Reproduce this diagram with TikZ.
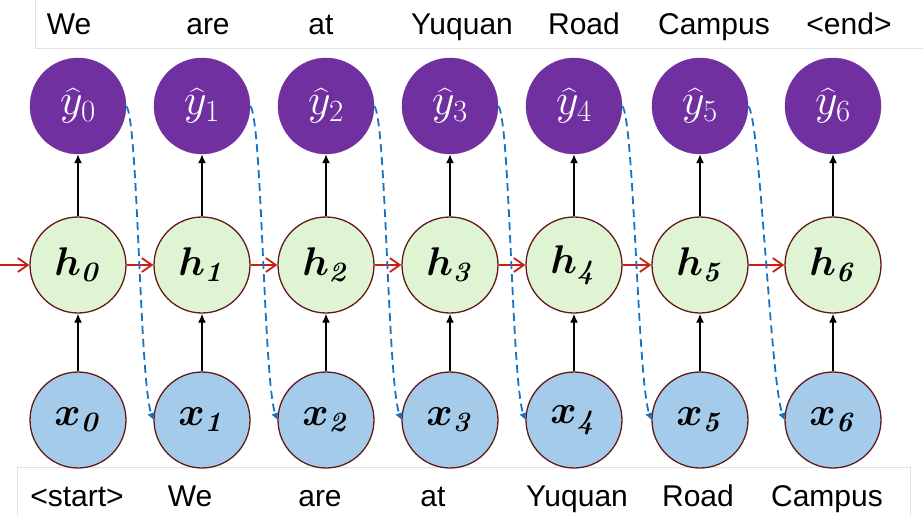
\RequirePackage{fix-cm}
\documentclass[tikz,border=0pt]{standalone}
\usepackage{amsmath}
\usepackage{bm}
\usepackage[no-math]{fontspec}
\setmainfont{Liberation Sans}
\usetikzlibrary{arrows.meta,calc}

\definecolor{ypurple}{RGB}{112,48,160}
\definecolor{hgreen}{RGB}{222,244,210}
\definecolor{xblue}{RGB}{164,203,234}
\definecolor{rimbrown}{RGB}{100,25,25}
\definecolor{recred}{RGB}{200,30,20}
\definecolor{feedblue}{RGB}{20,115,195}
\definecolor{boxgray}{RGB}{225,225,225}

\tikzset{
  outnode/.style={circle, minimum size=96pt, inner sep=0pt, fill=ypurple, draw=ypurple,
    text=white, font=\fontsize{44}{44}\selectfont},
  hidnode/.style={circle, minimum size=96pt, inner sep=0pt, fill=hgreen, draw=rimbrown,
    line width=1.3pt, font=\fontsize{40}{40}\selectfont},
  innode/.style={circle, minimum size=96pt, inner sep=0pt, fill=xblue, draw=rimbrown,
    line width=1.3pt, font=\fontsize{40}{40}\selectfont},
  word/.style={font=\fontsize{30}{30}\selectfont, anchor=base, inner sep=0pt},
  upflow/.style={line width=1.6pt, -{Latex[length=9pt,width=8pt]}},
  recur/.style={line width=1.8pt, draw=recred, -{Straight Barb[length=10pt,width=14pt,line width=1.8pt]}},
  feedback/.style={line width=1.8pt, draw=feedblue, dash pattern=on 8pt off 5pt,
    -{Latex[length=7pt,width=8pt]}},
  wordbox/.style={draw=boxgray, line width=0.8pt}
}

\newcommand{\hlab}[1]{$\bm{h}_{\bm{\mathit{#1}}}$}
\newcommand{\xlab}[1]{$\bm{x}_{\bm{\mathit{#1}}}$}

\begin{document}
\begin{tikzpicture}[x=1pt,y=-1pt]
  \useasboundingbox (0,0) rectangle (923,516);

  % word strips above and below
  \draw[wordbox] (35,-2) -- (35,48) -- (925,48);
  \draw[wordbox] (17,518) -- (17,467) -- (910,467) -- (910,518);

  % column positions
  \foreach \i/\cx in {0/78,1/202,2/326,3/450,4/574,5/700,6/833} {
    \node[outnode] (y\i) at (\cx,106) {$\widehat{y}_{\i}$};
    \node[hidnode] (h\i) at (\cx,265) {\hlab{\i}};
    \node[innode]  (x\i) at (\cx,420) {\xlab{\i}};
    \draw[upflow] (x\i) -- (h\i);
    \draw[upflow] (h\i) -- (y\i);
  }

  % recurrent connections
  \coordinate (hin) at (0,265);
  \draw[recur] (hin) -- (h0);
  \foreach \i/\j in {0/1,1/2,2/3,3/4,4/5,5/6} {
    \draw[recur] (h\i) -- (h\j);
  }

  % output fed back as next input
  \foreach \i/\j in {0/1,1/2,2/3,3/4,4/5,5/6} {
    \draw[feedback] (y\i.east) .. controls ($(y\i.east)+(12,12)$) and ($(x\j.west)+(-14,-40)$) .. (x\j.west);
  }

  % target words
  \node[word] (t0) at (69,35) {We};
  \node[word] (t1) at (208,35) {are};
  \node[word] (t2) at (321,35) {at};
  \node[word] (t3) at (462,35) {Yuquan};
  \node[word] (t4) at (584,35) {Road};
  \node[word] (t5) at (714,35) {Campus};
  \node[word] (t6) at (849,35) {<end>};

  % input words
  \node[word] (s0) at (77,506) {<start>};
  \node[word] (s1) at (190,506) {We};
  \node[word] (s2) at (320,506) {are};
  \node[word] (s3) at (433,506) {at};
  \node[word] (s4) at (577,506) {Yuquan};
  \node[word] (s5) at (698,506) {Road};
  \node[word] (s6) at (827,506) {Campus};
\end{tikzpicture}
\end{document}
